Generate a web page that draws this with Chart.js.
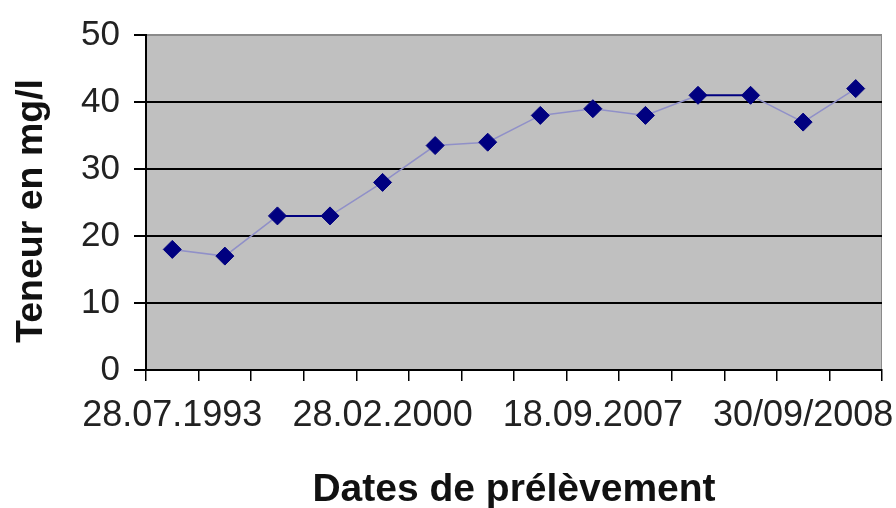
<!DOCTYPE html>
<html>
<head>
<meta charset="utf-8">
<script src="https://cdn.jsdelivr.net/npm/chart.js@4.4.1/dist/chart.umd.min.js"></script>
<style>
  html, body { margin: 0; padding: 0; background: #fff; }
  #wrap { width: 896px; height: 508px; }
</style>
</head>
<body>
<div id="wrap"><canvas id="cnv" width="896" height="508"></canvas></div>
<script>
// ---- data ----
const categories = ['28.07.1993', '', '', '', '28.02.2000', '', '', '', '18.09.2007', '', '', '', '30/09/2008', ''];
const teneur     = [18, 17, 23, 23, 28, 33.5, 34, 38, 39, 38, 41, 41, 37, 42];
const yTicks     = [0, 10, 20, 30, 40, 50];
const yTitle     = 'Teneur en mg/l';
const xTitle     = 'Dates de prélèvement';

const NAVY = '#000080';
const FONT = '"Liberation Sans", Arial, sans-serif';

// grey plot area + thin grey frame
const plotBg = {
  id: 'plotBg',
  beforeDraw(chart) {
    const { ctx, chartArea: a } = chart;
    ctx.save();
    ctx.fillStyle = '#c0c0c0';
    ctx.fillRect(a.left, a.top, a.right - a.left, a.bottom - a.top);
    ctx.strokeStyle = '#8a8a8a';
    ctx.lineWidth = 1;
    ctx.strokeRect(a.left + 0.5, a.top + 0.5, a.right - a.left - 1, a.bottom - a.top);
    ctx.restore();
  },
  // vertical axis title, placed a little lower than chart.js would centre it
  afterDraw(chart) {
    const ctx = chart.ctx;
    ctx.save();
    ctx.translate(42, 211);
    ctx.rotate(-Math.PI / 2);
    ctx.font = 'bold 37.5px ' + FONT;
    ctx.fillStyle = '#111';
    ctx.textAlign = 'center';
    ctx.textBaseline = 'alphabetic';
    ctx.fillText(yTitle, 0, 0);
    ctx.restore();
  }
};

new Chart('cnv', {
  type: 'line',
  data: {
    labels: categories,
    datasets: [{
      label: 'Teneur',
      data: teneur,
      borderColor: '#9090c8',
      borderWidth: 1.5,
      pointStyle: 'rectRot',
      pointRadius: 9,
      pointBackgroundColor: NAVY,
      pointBorderColor: NAVY,
      pointBorderWidth: 1,
      tension: 0,
      segment: {
        // flat segments render dark in the original
        borderColor: c => c.p0.parsed.y === c.p1.parsed.y ? NAVY : undefined,
        borderWidth: c => c.p0.parsed.y === c.p1.parsed.y ? 2 : undefined
      }
    }]
  },
  options: {
    responsive: false,
    animation: false,
    layout: { padding: { top: 35, right: 14, left: 0, bottom: 0 } },
    plugins: { legend: { display: false }, tooltip: { enabled: false } },
    scales: {
      x: {
        offset: true,
        grid: { offset: true, drawOnChartArea: false, drawTicks: true, tickLength: 11, color: '#000', lineWidth: 1.5 },
        border: { color: '#000', width: 2 },
        ticks: {
          autoSkip: false, maxRotation: 0, minRotation: 0,
          color: '#222', padding: 13,
          font: { family: FONT, size: 36 }
        },
        title: {
          display: true, text: xTitle, color: '#111',
          padding: { top: 10, bottom: 0 },
          font: { family: FONT, size: 39, weight: 'bold', lineHeight: 0.9 }
        },
        afterFit: s => { s.height = 508 - 370; }
      },
      y: {
        min: 0, max: 50,
        afterBuildTicks: s => { s.ticks = yTicks.map(v => ({ value: v })); },
        grid: {
          color: c => c.tick && c.tick.value === 50 ? '#8a8a8a' : (c.tick && c.tick.value === 0 ? 'rgba(0,0,0,0)' : '#000'),
          lineWidth: 2, tickLength: 12, tickColor: '#000', tickWidth: 2
        },
        border: { color: '#000', width: 2 },
        ticks: {
          color: '#222', padding: 14,
          font: { family: FONT, size: 35 }
        },
        title: { display: false },
        afterFit: s => { s.width = 146; }
      }
    }
  },
  plugins: [plotBg]
});
</script>
</body>
</html>
